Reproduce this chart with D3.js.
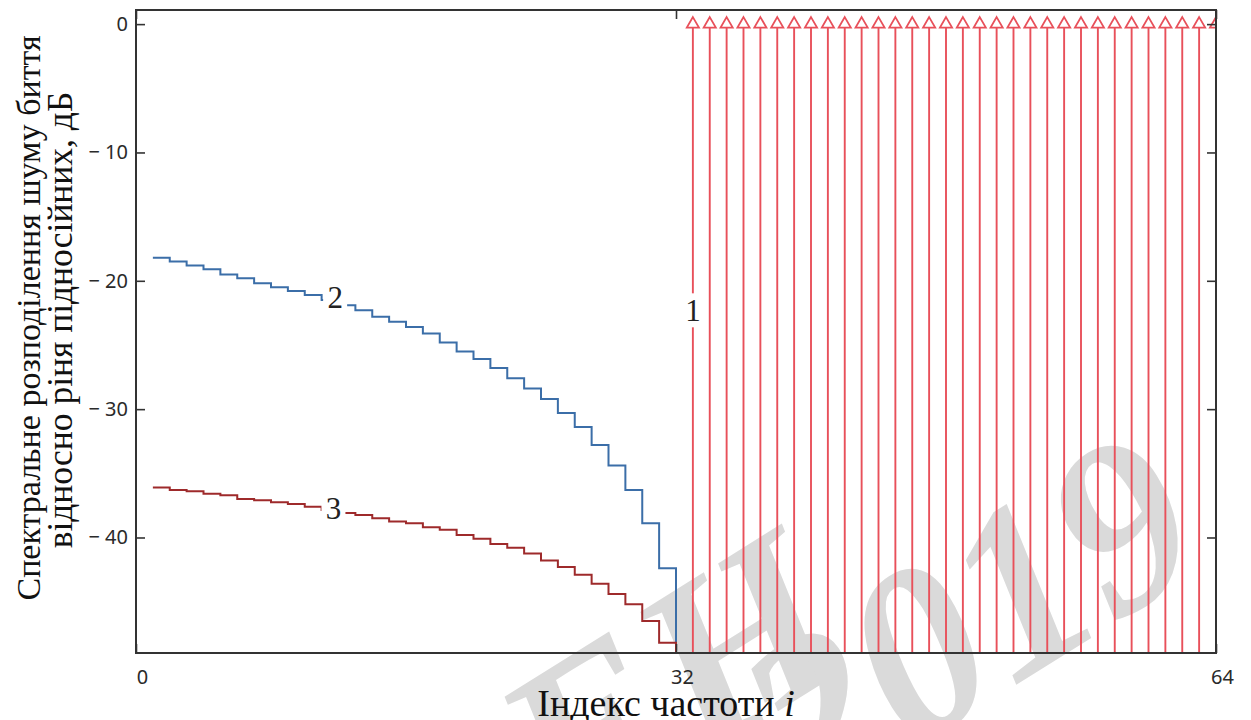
<!DOCTYPE html>
<meta charset="utf-8">
<style>
    body { margin: 0; background: #fff; }
    svg { display: block; }
</style>
<svg width="1251" height="720"></svg>
<script src="https://d3js.org/d3.v7.min.js"></script>
<script>

    // noise bins (curves 2 and 3), last bin drops to -inf
    var noiseIdx = [1, 2, 3, 4, 5, 6, 7, 8, 9, 10, 11, 12, 13, 14, 15, 16,
        17, 18, 19, 20, 21, 22, 23, 24, 25, 26, 27, 28, 29, 30, 31, 32];
    var noise2 = [-18.2, -18.5, -18.8, -19.1, -19.5, -19.8, -20.2, -20.5, -20.8, -21.1,
        -21.5, -21.9, -22.3, -22.8, -23.2, -23.6, -24.1, -24.8, -25.5, -26.1,
        -26.8, -27.6, -28.4, -29.2, -30.3, -31.4, -32.8, -34.4, -36.3, -38.9,
        -42.4, -Infinity];
    var noise3 = [-36.1, -36.3, -36.4, -36.6, -36.7, -37.0, -37.1, -37.25, -37.4, -37.6,
        -37.85, -38.1, -38.25, -38.5, -38.75, -38.9, -39.2, -39.4, -39.8, -40.1,
        -40.5, -40.8, -41.25, -41.8, -42.3, -42.9, -43.6, -44.4, -45.2, -46.5,
        -48.2, -Infinity];

    // subcarriers (curve 1)
    var carrierIdx = [33, 34, 35, 36, 37, 38, 39, 40, 41, 42, 43, 44, 45, 46, 47, 48,
        49, 50, 51, 52, 53, 54, 55, 56, 57, 58, 59, 60, 61, 62, 63, 64];
    var carrierDb = [0, 0, 0, 0, 0, 0, 0, 0, 0, 0, 0, 0, 0, 0, 0, 0,
        0, 0, 0, 0, 0, 0, 0, 0, 0, 0, 0, 0, 0, 0, 0, 0];

    var xTicks = [0, 32, 64];
    var yTicks = [0, -10, -20, -30, -40];

    // note: "top" is taken by window.top, so prefixed names
    var svg = d3.select("svg"),
        pLeft = 136, pRight = 1216, pTop = 10, pBottom = 653;

    var x = d3.scaleLinear().domain([0, 64]).range([pLeft, pRight]);
    var y = d3.scaleLinear().domain([-49, 1.1]).range([pBottom, pTop]).clamp(true);

    // watermark, behind everything
    var wm = svg.append("g")
        .attr("fill", "#dadada")
        .style("font-family", "Liberation Serif")
        .style("font-weight", "bold")
        .style("font-style", "italic")
        .style("font-size", "240px");
    wm.append("text")
        .attr("transform", "translate(860,660) rotate(-32)")
        .attr("text-anchor", "end")
        .text("ЕН");
    wm.append("text")
        .attr("transform", "translate(808,815) rotate(-32)")
        .text("2019");

    svg.append("clipPath").attr("id", "plot")
        .append("rect")
        .attr("x", pLeft).attr("y", pTop)
        .attr("width", pRight - pLeft).attr("height", pBottom - pTop);

    var marks = svg.append("g").attr("clip-path", "url(#plot)");

    var step = d3.line()
        .x(function (d) { return x(d[0]); })
        .y(function (d) { return y(d[1]); })
        .curve(d3.curveStepAfter);

    marks.append("path")
        .datum(d3.zip(noiseIdx, noise2))
        .attr("d", step)
        .attr("fill", "none")
        .attr("stroke", "#3b6ea8")
        .attr("stroke-width", 2);

    marks.append("path")
        .datum(d3.zip(noiseIdx, noise3))
        .attr("d", step)
        .attr("fill", "none")
        .attr("stroke", "#9e2a2b")
        .attr("stroke-width", 2);

    var carriers = d3.zip(carrierIdx, carrierDb);

    marks.selectAll(".stem")
        .data(carriers)
        .enter().append("line")
        .attr("class", "stem")
        .attr("x1", function (d) { return x(d[0]); })
        .attr("x2", function (d) { return x(d[0]); })
        .attr("y1", y(-49))
        .attr("y2", function (d) { return y(d[1]); })
        .attr("stroke", "#e8505a")
        .attr("stroke-width", 1.9);

    marks.selectAll(".tri")
        .data(carriers)
        .enter().append("path")
        .attr("class", "tri")
        .attr("d", d3.symbol(d3.symbolTriangle, 64))
        .attr("transform", function (d) { return "translate(" + x(d[0]) + "," + y(d[1]) + ")"; })
        .attr("fill", "#fff")
        .attr("stroke", "#e8505a")
        .attr("stroke-width", 1.8);

    // trace labels with white background
    var traceLabels = [
        {t: "1", i: 33, v: -22.3},
        {t: "2", i: 11.8, v: -21.3},
        {t: "3", i: 11.7, v: -37.7}
    ];
    traceLabels.forEach(function (d) {
        var g = svg.append("g").attr("transform", "translate(" + x(d.i) + "," + y(d.v) + ")");
        g.append("rect")
            .attr("x", -12).attr("y", -17)
            .attr("width", 24).attr("height", 34)
            .attr("fill", "#fff");
        g.append("text")
            .attr("text-anchor", "middle")
            .attr("dy", "0.35em")
            .style("font-family", "Liberation Serif")
            .style("font-size", "31px")
            .attr("fill", "#222")
            .text(d.t);
    });

    // frame
    svg.append("rect")
        .attr("x", pLeft).attr("y", pTop)
        .attr("width", pRight - pLeft).attr("height", pBottom - pTop)
        .attr("fill", "none")
        .attr("stroke", "#333")
        .attr("stroke-width", 2);

    function fmt(d) {
        return d < 0 ? "\u2212 " + (-d) : "" + d;
    }

    svg.append("g")
        .attr("transform", "translate(" + pLeft + ",0)")
        .call(d3.axisLeft(y).tickValues(yTicks).tickFormat(fmt)
            .tickSizeInner(-9).tickSizeOuter(0).tickPadding(8));
    svg.append("g")
        .attr("transform", "translate(" + pRight + ",0)")
        .call(d3.axisRight(y).tickValues(yTicks).tickFormat("")
            .tickSizeInner(-9).tickSizeOuter(0));
    var xl = svg.append("g")
        .attr("transform", "translate(0," + pBottom + ")")
        .call(d3.axisBottom(x).tickValues(xTicks).tickFormat(fmt)
            .tickSizeInner(-9).tickSizeOuter(0).tickPadding(17));
    svg.append("g")
        .attr("transform", "translate(0," + pTop + ")")
        .call(d3.axisTop(x).tickValues(xTicks).tickFormat("")
            .tickSizeInner(-9).tickSizeOuter(0));

    svg.selectAll(".domain").remove();
    svg.selectAll(".tick line").attr("stroke", "#333").attr("stroke-width", 1.6);
    svg.selectAll(".tick text")
        .attr("fill", "#2a2a2a")
        .style("font-family", "Noto Sans")
        .style("font-size", "20px");
    xl.selectAll(".tick text").attr("dx", 6);

    // axis titles
    var title = svg.append("g")
        .attr("fill", "#111")
        .style("font-family", "Liberation Serif");
    title.append("text")
        .attr("transform", "translate(40,318) rotate(-90)")
        .attr("text-anchor", "middle")
        .style("font-size", "34px")
        .text("Спектральне розподілення шуму биття");
    title.append("text")
        .attr("transform", "translate(72,320) rotate(-90)")
        .attr("text-anchor", "middle")
        .style("font-size", "35.5px")
        .text("відносно ріня підносійних, дБ");
    var xt = title.append("text")
        .attr("x", 666).attr("y", 716)
        .attr("text-anchor", "middle")
        .style("font-size", "38px");
    xt.append("tspan").text("Індекс частоти ");
    xt.append("tspan").style("font-style", "italic").text("i");

</script>
